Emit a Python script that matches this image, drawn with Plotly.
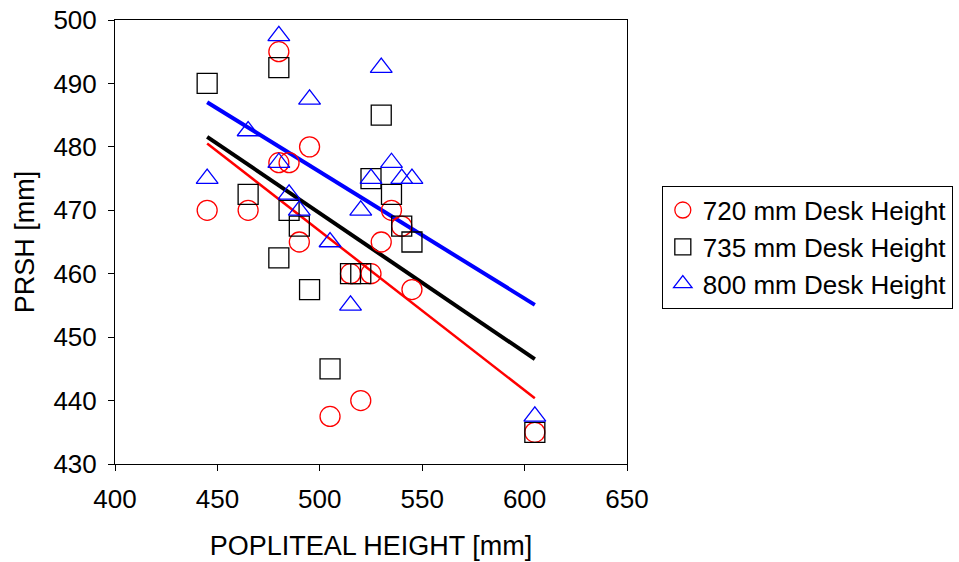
import numpy as np
import plotly.graph_objects as go

popliteal = [445, 465, 480, 480, 485, 490, 495, 505, 515, 520, 525, 530, 535, 540, 545, 605]
prsh_720 = [470, 470, 495, 477.5, 477.5, 465, 480, 437.5, 460, 440, 460, 465, 470, 467.5, 457.5, 435]
prsh_735 = [490, 472.5, 492.5, 462.5, 470, 467.5, 457.5, 445, 460, 460, 475, 485, 472.5, 467.5, 465, 435]
prsh_800 = [475, 482.5, 497.5, 477.5, 472.5, 470, 487.5, 465, 455, 470, 475, 492.5, 477.5, 475, 475, 437.5]

series = [
    ("720 mm Desk Height", prsh_720, "red", "circle-open", 2.5, 20),
    ("735 mm Desk Height", prsh_735, "black", "square-open", 4, 20),
    ("800 mm Desk Height", prsh_800, "blue", "triangle-up-open", 4, 19),
]

FONT = "Liberation Sans, Arial, sans-serif"
FS = 26
FT = 27
fig = go.Figure()
x = np.array(popliteal, dtype=float)
xl = np.array([x.min(), x.max()])
for name, ys, col, sym, lw, ms in series:
    m, b = np.polyfit(x, np.array(ys, dtype=float), 1)
    fig.add_trace(go.Scatter(x=xl, y=m * xl + b, mode="lines",
                             line=dict(color=col, width=lw), showlegend=False,
                             hoverinfo="skip"))
for name, ys, col, sym, lw, ms in series:
    fig.add_trace(go.Scatter(x=popliteal, y=ys, mode="markers", name=name,
                             marker=dict(symbol=sym, size=ms, color=col,
                                         line=dict(color=col, width=1.3))))

axis_common = dict(showline=True, linecolor="black", linewidth=1, mirror=True,
                   ticks="outside", ticklen=6, tickcolor="black", showgrid=False,
                   zeroline=False, automargin=False, ticklabelstandoff=6,
                   ticklabeloverflow="allow",
                   tickfont=dict(size=FS, color="black", family=FONT))
fig.update_xaxes(range=[400, 650], dtick=50, title=dict(text="POPLITEAL HEIGHT [mm]",
                 font=dict(size=FT, color="black", family=FONT), standoff=22), **axis_common)
fig.update_yaxes(range=[430, 500], dtick=10, title=dict(text="PRSH [mm]",
                 font=dict(size=FT, color="black", family=FONT), standoff=10), **axis_common)

fig.update_layout(
    width=959, height=562,
    margin=dict(l=115, r=332, t=20, b=98, autoexpand=False),
    plot_bgcolor="white", paper_bgcolor="white",
    font=dict(family=FONT, color="black"),
    legend=dict(x=1.068, y=0.627, xanchor="left", yanchor="top",
                bordercolor="black", borderwidth=1, bgcolor="white",
                font=dict(size=FS, color="black", family=FONT),
                itemsizing="trace", tracegroupgap=0),
)
fig.write_html("out.html", config={"displayModeBar": False},
               post_script="document.body.style.margin='0';")
